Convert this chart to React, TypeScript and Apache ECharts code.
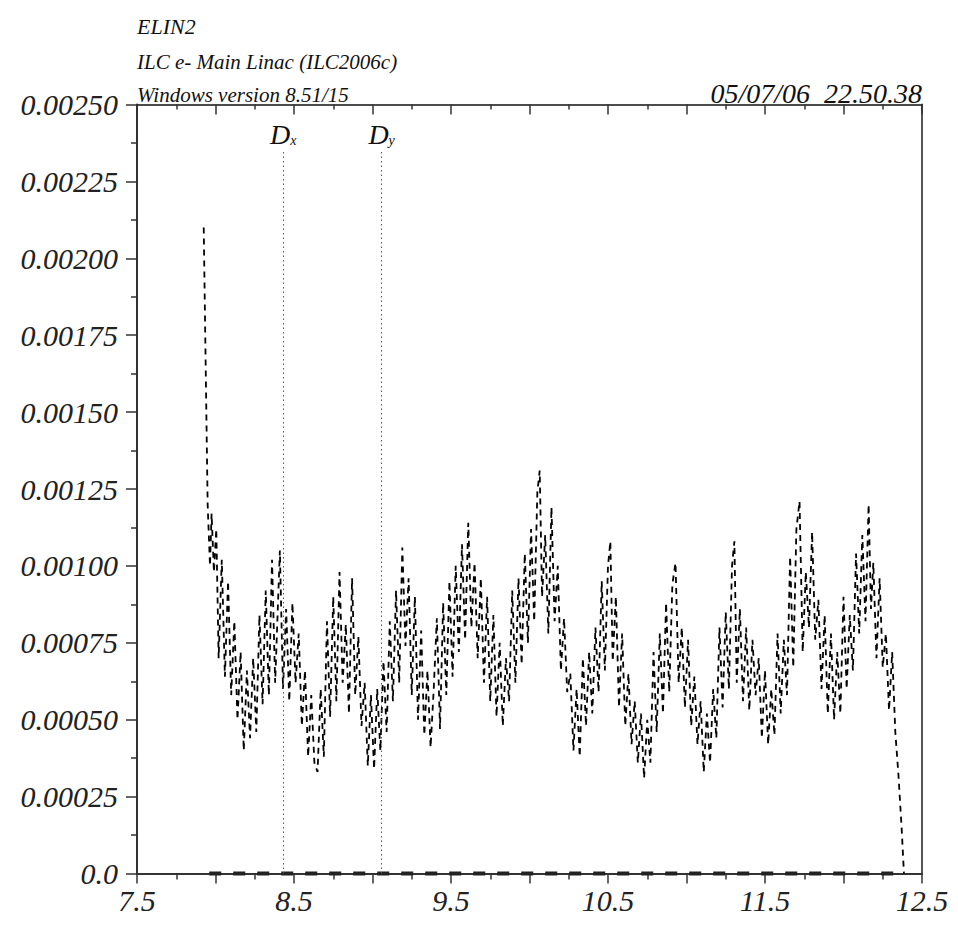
import React, { useEffect, useRef } from "react";
import * as echarts from "echarts";

// Header texts
const titleLines = ["ELIN2", "ILC e- Main Linac (ILC2006c)", "Windows version 8.51/15"];
const dateText = "05/07/06  22.50.38";

// Axis settings (s in km, value)
const xMin = 7.5;
const xMax = 12.5;
const yMin = 0;
const yMax = 0.0025;

// Marker lines (Dx, Dy)
const markerSubs = ["x", "y"];
const markerPos = [8.432, 9.058];
const markerTop = 0.00235;

// Main trace: [s, value * 1e5]
const trace: Array<[number, number]> = [
  [7.925, 210], [7.95, 120], [7.965, 100], [7.975, 117], [7.99, 98], [8.005, 112],
  [8.02, 70], [8.04, 102], [8.06, 64], [8.08, 95], [8.1, 58], [8.12, 82],
  [8.14, 50], [8.16, 72], [8.18, 40], [8.2, 66], [8.22, 44], [8.24, 70],
  [8.26, 46], [8.28, 84], [8.3, 55], [8.32, 92], [8.34, 58], [8.36, 102],
  [8.38, 62], [8.41, 105], [8.43, 60], [8.45, 86], [8.47, 56], [8.49, 88],
  [8.51, 62], [8.53, 78], [8.55, 48], [8.57, 66], [8.59, 38], [8.61, 58],
  [8.63, 36], [8.65, 33], [8.67, 60], [8.69, 38], [8.71, 82], [8.73, 51],
  [8.75, 90], [8.77, 56], [8.79, 98], [8.81, 62], [8.83, 81], [8.85, 52],
  [8.87, 96], [8.89, 58], [8.91, 77], [8.93, 48], [8.95, 62], [8.97, 35],
  [8.99, 58], [9.01, 34], [9.03, 60], [9.05, 40], [9.07, 69], [9.09, 46],
  [9.11, 82], [9.13, 56], [9.15, 92], [9.17, 62], [9.19, 106], [9.21, 74],
  [9.23, 96], [9.25, 58], [9.27, 90], [9.29, 50], [9.31, 79], [9.33, 45],
  [9.35, 66], [9.37, 41], [9.39, 60], [9.41, 83], [9.43, 47], [9.45, 88],
  [9.47, 58], [9.49, 95], [9.51, 64], [9.53, 100], [9.55, 72], [9.57, 107],
  [9.59, 76], [9.61, 114], [9.63, 80], [9.65, 101], [9.67, 70], [9.69, 96],
  [9.71, 62], [9.73, 90], [9.75, 56], [9.77, 84], [9.79, 51], [9.81, 75],
  [9.83, 48], [9.85, 70], [9.87, 56], [9.89, 92], [9.91, 62], [9.93, 96],
  [9.95, 68], [9.97, 104], [9.99, 75], [10.01, 112], [10.03, 82], [10.05, 124],
  [10.065, 131], [10.08, 90], [10.1, 110], [10.12, 78], [10.14, 119], [10.16, 82],
  [10.18, 100], [10.2, 66], [10.22, 83], [10.24, 59], [10.26, 65], [10.28, 40],
  [10.3, 60], [10.32, 38], [10.34, 70], [10.36, 48], [10.38, 72], [10.4, 52],
  [10.42, 80], [10.44, 59], [10.46, 95], [10.48, 66], [10.5, 100], [10.515, 108],
  [10.53, 69], [10.55, 90], [10.57, 54], [10.59, 78], [10.61, 48], [10.63, 65],
  [10.65, 42], [10.67, 56], [10.69, 36], [10.71, 52], [10.73, 31], [10.75, 50],
  [10.77, 36], [10.79, 72], [10.81, 46], [10.83, 78], [10.85, 52], [10.87, 88],
  [10.89, 59], [10.91, 94], [10.93, 101], [10.95, 62], [10.97, 80], [10.99, 54],
  [11.01, 76], [11.03, 48], [11.05, 64], [11.07, 42], [11.09, 56], [11.11, 33],
  [11.13, 52], [11.15, 36], [11.17, 60], [11.19, 44], [11.21, 80], [11.23, 54],
  [11.25, 85], [11.27, 60], [11.29, 100], [11.305, 108], [11.32, 62], [11.34, 86],
  [11.36, 56], [11.38, 80], [11.4, 53], [11.42, 76], [11.44, 58], [11.46, 70],
  [11.48, 44], [11.5, 66], [11.52, 42], [11.54, 60], [11.56, 45], [11.58, 78],
  [11.6, 52], [11.62, 76], [11.64, 58], [11.66, 103], [11.68, 67], [11.7, 112],
  [11.72, 121], [11.74, 72], [11.76, 98], [11.78, 80], [11.8, 111], [11.82, 76],
  [11.84, 89], [11.86, 60], [11.88, 84], [11.9, 52], [11.92, 78], [11.94, 50],
  [11.96, 72], [11.98, 52], [12.0, 90], [12.02, 60], [12.04, 84], [12.06, 66],
  [12.08, 104], [12.1, 78], [12.12, 110], [12.14, 82], [12.16, 120], [12.175, 86],
  [12.19, 101], [12.21, 70], [12.23, 96], [12.25, 67], [12.27, 78], [12.29, 53],
  [12.31, 72], [12.33, 46], [12.35, 32], [12.37, 15], [12.385, 0]
];

// Baseline element markers along zero
const baseline: Array<[number, number]> = [[7.96, 0], [12.39, 0]];

const SERIF = '"Liberation Serif", "Times New Roman", serif';

export default function App() {
  const ref = useRef<HTMLDivElement>(null);
  useEffect(() => {
    if (!ref.current) return;
    const chart = echarts.init(ref.current, null, { renderer: "svg" });
    const axisColor = "#333";
    const labelFont = { fontFamily: SERIF, fontStyle: "italic" as const, fontSize: 30, color: "#222" };
    const isLabelTick = (v: number) => {
      const r = (((v - xMin) % 1) + 1) % 1;
      return r < 1e-6 || Math.abs(r - 1) < 1e-6;
    };
    const option: any = {
      animation: false,
      backgroundColor: "#fff",
      grid: { left: 137, right: 36, top: 104.5, bottom: 55.5, containLabel: false },
      xAxis: [
        {
          type: "value", min: xMin, max: xMax, interval: 0.5, position: "bottom",
          axisLine: { show: true, onZero: false, lineStyle: { color: axisColor, width: 2 } },
          axisTick: { show: true, inside: false, length: 10, lineStyle: { color: axisColor, width: 1.5 } },
          minorTick: { show: true, splitNumber: 2, length: 6, lineStyle: { color: axisColor, width: 1.5 } },
          splitLine: { show: false },
          axisLabel: {
            ...labelFont, margin: 12,
            formatter: (v: number) => (isLabelTick(v) ? v.toFixed(1) : ""),
          },
        },
        {
          type: "value", min: xMin, max: xMax, interval: 0.5, position: "top",
          axisLine: { show: true, onZero: false, lineStyle: { color: "#111", width: 1.5 } },
          axisTick: { show: true, inside: true, length: 10, lineStyle: { color: axisColor, width: 1.5 } },
          minorTick: { show: true, splitNumber: 2, length: 5, lineStyle: { color: axisColor, width: 1.5 } },
          splitLine: { show: false },
          axisLabel: { show: false },
        },
      ],
      yAxis: [
        {
          type: "value", min: yMin, max: yMax, interval: 0.00025, position: "left",
          axisLine: { show: true, onZero: false, lineStyle: { color: axisColor, width: 2 } },
          axisTick: { show: true, inside: false, length: 11, lineStyle: { color: axisColor, width: 1.5 } },
          minorTick: { show: true, splitNumber: 2, length: 6, lineStyle: { color: axisColor, width: 1.5 } },
          splitLine: { show: false },
          axisLabel: {
            ...labelFont, margin: 19,
            formatter: (v: number) => (Math.abs(v) < 1e-9 ? "0.0" : v.toFixed(5)),
          },
        },
        {
          type: "value", min: yMin, max: yMax, position: "right",
          axisLine: { show: true, onZero: false, lineStyle: { color: "#555", width: 2 } },
          axisTick: { show: false }, axisLabel: { show: false }, splitLine: { show: false },
        },
      ],
      series: [
        {
          type: "line",
          data: baseline,
          symbol: "none",
          clip: false,
          lineStyle: { color: "#222", width: 4, type: [12, 12] },
          z: 1,
        },
        {
          type: "line",
          data: trace.map(([s, v]) => [s, v / 1e5]),
          symbol: "none",
          showSymbol: false,
          lineStyle: { color: "#000", width: 1.8, type: [6, 5] },
          z: 3,
          markLine: {
            silent: true,
            symbol: "none",
            lineStyle: { color: "#555", width: 1, type: [1.5, 3] },
            data: markerPos.map((p, i) => [
              { coord: [p, 0] },
              {
                coord: [p, markerTop],
                label: {
                  show: true,
                  position: "end",
                  distance: 2,
                  formatter: "{d|D}{s|" + markerSubs[i] + "}",
                  rich: {
                    d: { fontFamily: SERIF, fontStyle: "italic", fontSize: 28, color: "#111" },
                    s: { fontFamily: SERIF, fontStyle: "italic", fontSize: 14, color: "#111", padding: [12, 0, 0, 0] },
                  },
                },
              },
            ]),
          },
        },
      ],
      graphic: [
        ...titleLines.map((t, i) => ({
          type: "text",
          x: 137,
          y: [26, 62, 95][i],
          style: { text: t, font: "italic " + (i === 0 ? 22 : 21) + "px " + SERIF, fill: "#111", textVerticalAlign: "middle" },
          z: 10,
        })),
        {
          type: "text",
          x: 922,
          y: 93,
          style: { text: dateText, font: "italic 28px " + SERIF, fill: "#111", textAlign: "right", textVerticalAlign: "middle" },
          z: 10,
        },
      ],
    };
    chart.setOption(option);
    return () => chart.dispose();
  }, []);
  return (
    <div
      ref={ref}
      style={{ position: "absolute", left: 0, top: 0, width: 958, height: 929, background: "#fff" }}
    />
  );
}
